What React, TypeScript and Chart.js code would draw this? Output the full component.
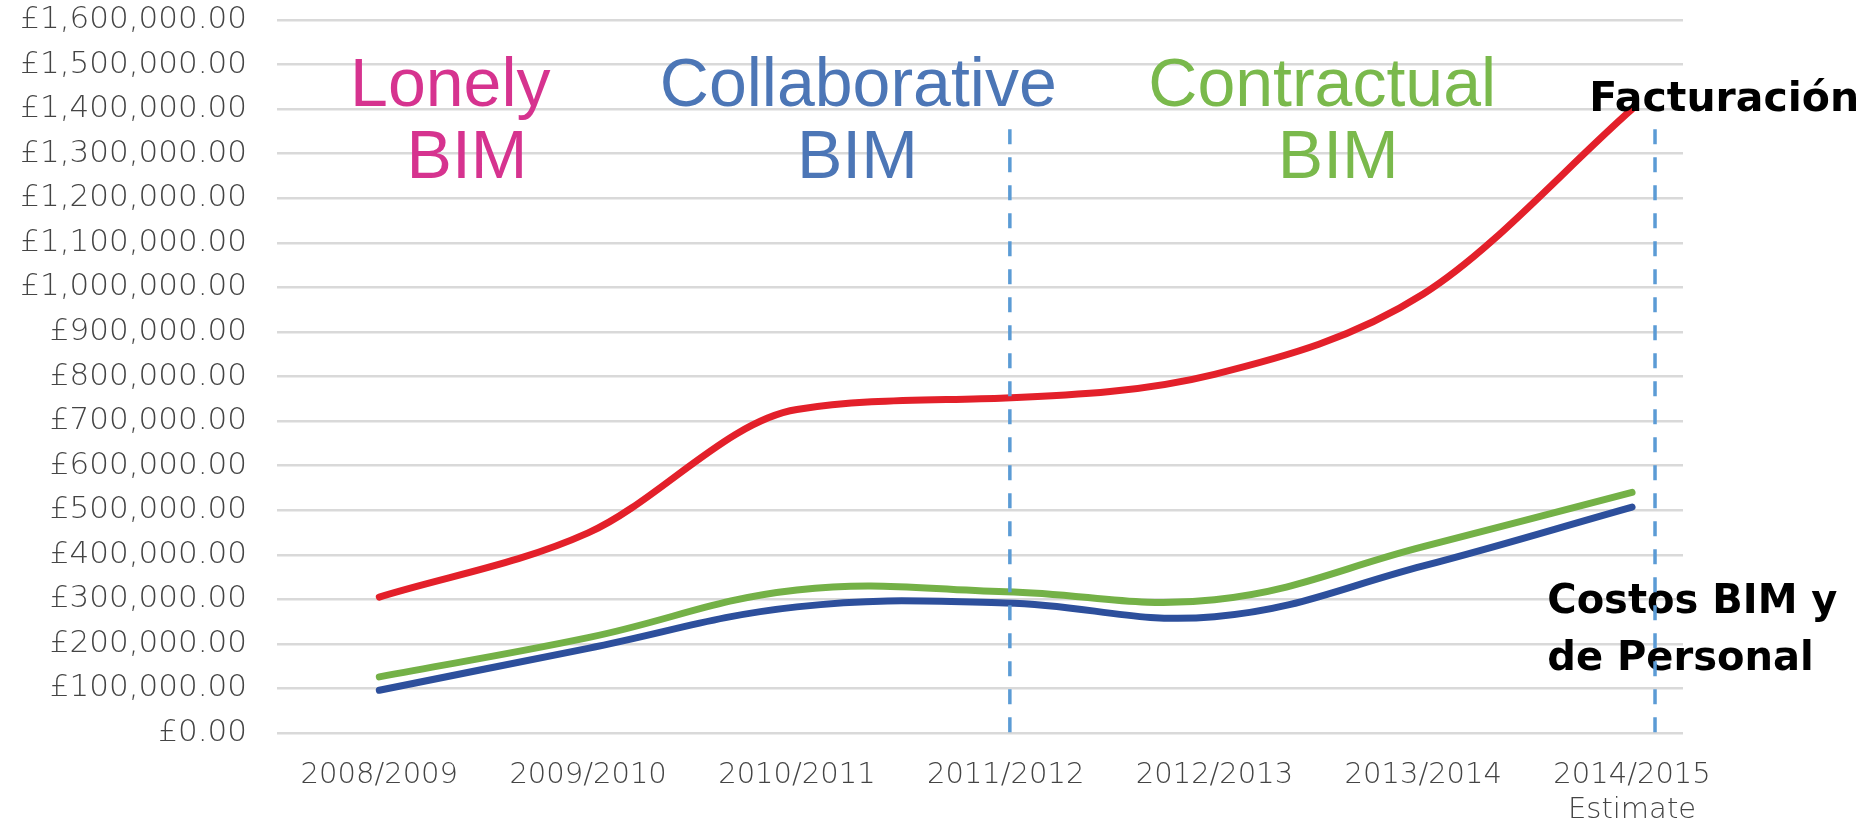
import React, { useEffect, useRef } from 'react';
import { Chart, registerables } from 'chart.js';

Chart.register(...registerables);

// ---- data ----
const categories = ['2008/2009', '2009/2010', '2010/2011', '2011/2012', '2012/2013', '2013/2014', '2014/2015'];
const categorySubLabels = ['', '', '', '', '', '', 'Estimate'];

const revenue = [305000, 449000, 726000, 752000, 805000, 985000, 1400000];
const contractCosts = [126000, 214000, 321000, 317000, 299000, 418000, 540000];
const staffCosts = [96000, 190000, 283000, 292000, 261000, 375000, 507000];

const yMin = 0;
const yMax = 1600000;
const yStep = 100000;

// vertical dashed dividers (x in category index units), from 0 up to dividerTop
const dividerX = [3.02, 6.11];
const dividerTop = 1355000;

// phase labels (x = category index for centre, y = value at baseline)
const phaseText = ['Lonely', 'BIM', 'Collaborative', 'BIM', 'Contractual', 'BIM'];
const phaseX = [0.34, 0.42, 2.294, 2.29, 4.516, 4.593];
const phaseY = [1407000, 1245000, 1407000, 1245000, 1407000, 1245000];
const phaseColor = ['#d6338f', '#d6338f', '#4c76b6', '#4c76b6', '#7ab94c', '#7ab94c'];

// bold side notes (x = category index for left edge, y = value at baseline)
const noteText = ['Facturación', 'Costos BIM y', 'de Personal'];
const noteX = [5.795, 5.594, 5.594];
const noteY = [1395000, 270000, 142000];
const noteSize = [41, 40, 40];

const formatPounds = (v: number) => {
  const whole = Math.round(v).toString().replace(/\B(?=(\d{3})+(?!\d))/g, ',');
  return '£' + whole + '.00';
};

const annotationPlugin = {
  id: 'bimAnnotations',
  beforeDatasetsDraw(chart: any) {
    const { ctx, scales } = chart;
    const xs = scales.x;
    const ys = scales.y;
    ctx.save();
    ctx.font = '68px "Liberation Sans", Arial, sans-serif';
    ctx.textAlign = 'center';
    ctx.textBaseline = 'alphabetic';
    phaseText.forEach((t, i) => {
      ctx.fillStyle = phaseColor[i];
      ctx.fillText(t, xs.getPixelForValue(phaseX[i]), ys.getPixelForValue(phaseY[i]));
    });
    ctx.restore();
  },
  afterDatasetsDraw(chart: any) {
    const { ctx, scales } = chart;
    const xs = scales.x;
    const ys = scales.y;
    ctx.save();
    ctx.textAlign = 'left';
    ctx.textBaseline = 'alphabetic';
    ctx.fillStyle = '#000000';
    noteText.forEach((t, i) => {
      ctx.font = `bold ${noteSize[i]}px "DejaVu Sans", sans-serif`;
      ctx.fillText(t, xs.getPixelForValue(noteX[i]), ys.getPixelForValue(noteY[i]));
    });
    ctx.strokeStyle = '#5b9bd5';
    ctx.lineWidth = 3.5;
    ctx.setLineDash([15, 13]);
    dividerX.forEach((dx) => {
      const px = xs.getPixelForValue(dx);
      ctx.beginPath();
      ctx.moveTo(px, ys.getPixelForValue(dividerTop));
      ctx.lineTo(px, ys.getPixelForValue(0));
      ctx.stroke();
    });
    ctx.restore();
  },
};

export default function App() {
  const canvasRef = useRef<HTMLCanvasElement | null>(null);

  useEffect(() => {
    if (!canvasRef.current) return;
    const toPoints = (arr: number[]) => arr.map((v, i) => ({ x: i, y: v }));
    const chart = new Chart(canvasRef.current, {
      type: 'line',
      data: {
        datasets: [
          {
            label: 'Facturación',
            data: toPoints(revenue),
            borderColor: '#e3202a',
            borderWidth: 7,
            pointRadius: 0,
            cubicInterpolationMode: 'monotone',
            borderCapStyle: 'round',
            fill: false,
          },
          {
            label: 'Costos BIM',
            data: toPoints(contractCosts),
            borderColor: '#74b147',
            borderWidth: 7,
            pointRadius: 0,
            tension: 0.4,
            borderCapStyle: 'round',
            fill: false,
          },
          {
            label: 'Costos de Personal',
            data: toPoints(staffCosts),
            borderColor: '#2d4f9c',
            borderWidth: 7,
            pointRadius: 0,
            tension: 0.4,
            borderCapStyle: 'round',
            fill: false,
          },
        ],
      },
      options: {
        animation: false,
        responsive: false,
        maintainAspectRatio: false,
        layout: { padding: { top: 20, right: 186, bottom: 0, left: 0 } },
        plugins: {
          legend: { display: false },
          tooltip: { enabled: false },
        },
        scales: {
          x: {
            type: 'linear',
            min: -0.49,
            max: 6.244,
            grid: { display: false, drawTicks: false },
            border: { display: false },
            afterBuildTicks: (scale: any) => {
              scale.ticks = categories.map((_, i) => ({ value: i }));
            },
            afterFit: (scale: any) => {
              scale.height = 91;
              scale.paddingLeft = 0;
              scale.paddingRight = 0;
            },
            ticks: {
              autoSkip: false,
              maxRotation: 0,
              padding: 25,
              color: '#444444',
              font: { family: '"DejaVu Sans", sans-serif', size: 29, weight: '200' as any, lineHeight: 1.2 },
              callback: (value: any) => {
                const i = Math.round(Number(value));
                const main = categories[i] ?? '';
                const sub = categorySubLabels[i];
                return sub ? [main, sub] : main;
              },
            },
          },
          y: {
            min: yMin,
            max: yMax,
            grid: { color: '#d9d9d9', lineWidth: 2.5, drawTicks: false },
            border: { display: false },
            afterFit: (scale: any) => {
              scale.width = 277;
              scale.paddingTop = 0;
              scale.paddingBottom = 0;
            },
            ticks: {
              stepSize: yStep,
              padding: 30,
              color: '#444444',
              font: { family: '"DejaVu Sans", sans-serif', size: 31, weight: '200' as any },
              callback: (value: any) => formatPounds(Number(value)),
            },
          },
        },
      },
      plugins: [annotationPlugin],
    } as any);
    return () => chart.destroy();
  }, []);

  return (
    <div style={{ position: 'absolute', left: 0, top: 0, width: 1869, height: 824, background: '#ffffff' }}>
      <canvas ref={canvasRef} width={1869} height={824} style={{ width: 1869, height: 824, display: 'block' }} />
    </div>
  );
}
